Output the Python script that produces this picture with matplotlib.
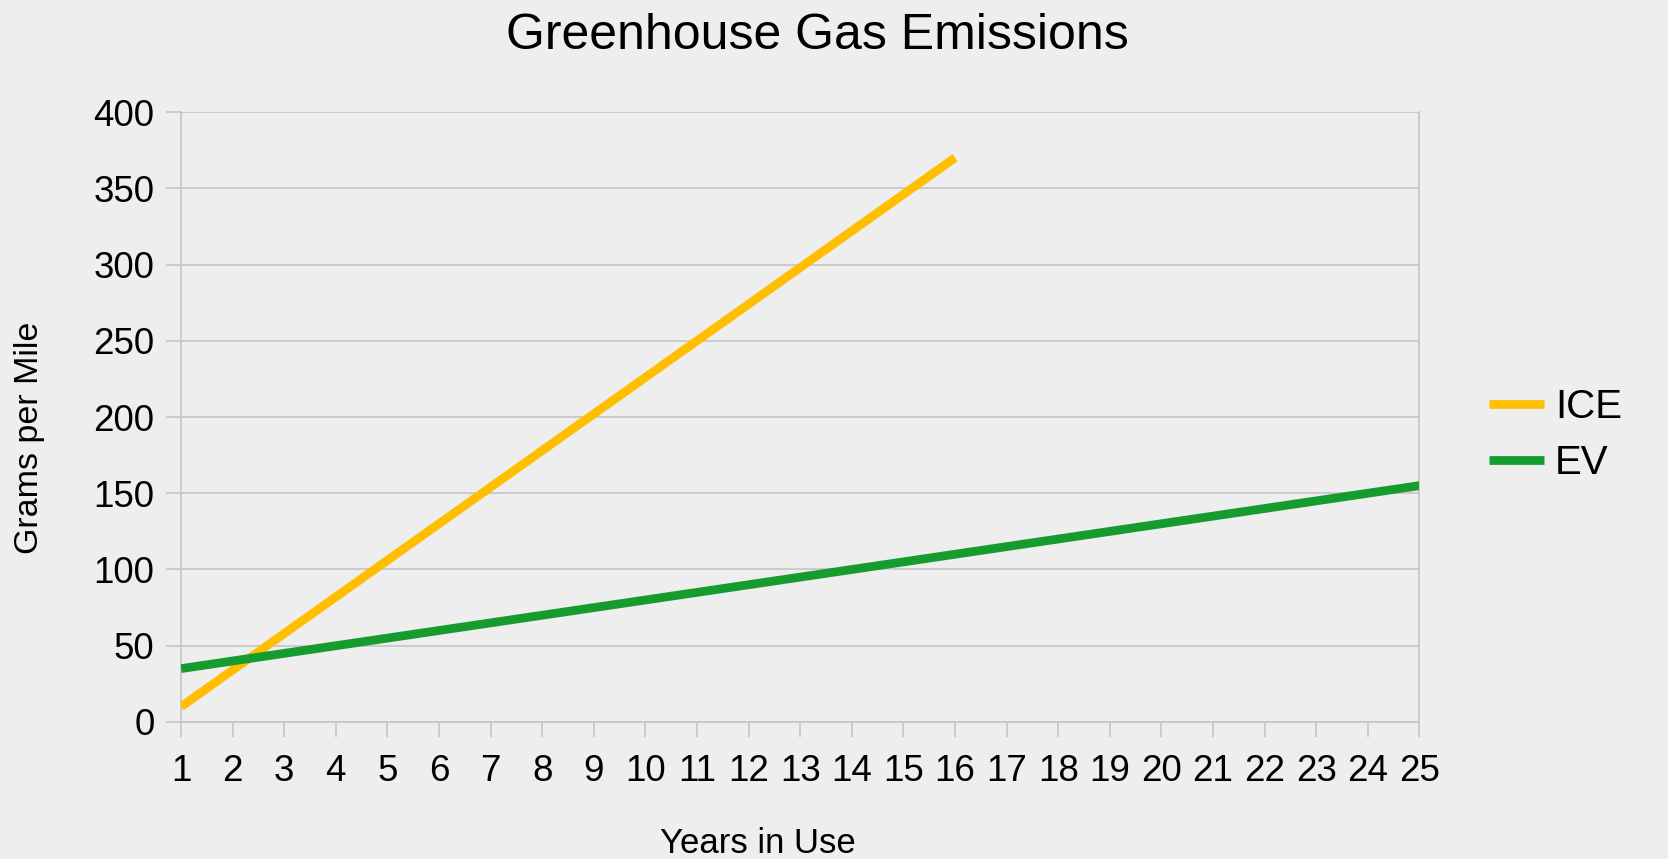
import numpy as np
import matplotlib
matplotlib.use('Agg')
import matplotlib.pyplot as plt

plt.rcParams['font.family'] = ['Liberation Sans', 'DejaVu Sans']

years = list(range(1, 26))
ice_years = list(range(1, 17))
ice = [10, 34, 58, 82, 106, 130, 154, 178, 202, 226, 250, 274, 298, 322, 346, 370]
ev = [35, 40, 45, 50, 55, 60, 65, 70, 75, 80, 85, 90, 95, 100, 105,
      110, 115, 120, 125, 130, 135, 140, 145, 150, 155]
y_ticks = [0, 50, 100, 150, 200, 250, 300, 350, 400]

bg = '#eeeeee'
grid_col = '#c4c4c4'

fig = plt.figure(figsize=(16.68, 8.59), dpi=100, facecolor=bg)
ax = fig.add_axes([0.1085, 0.1595, 0.7425, 0.7101], facecolor=bg)

ax.plot(ice_years, ice, color='#FFBF00', lw=6.3, label='ICE', solid_capstyle='butt', zorder=3)
ax.plot(years, ev, color='#169B2F', lw=6.3, label='EV', solid_capstyle='butt', zorder=3)

ax.set_xlim(1, 25)
ax.set_ylim(0, 400)
ax.set_xticks(years)
ax.set_yticks(y_ticks)
ax.grid(axis='y', color=grid_col, lw=1.2, zorder=1)
ax.tick_params(axis='both', labelsize=26.5, color=grid_col, width=1.2, length=11)
ax.tick_params(axis='y', pad=8)
ax.tick_params(axis='x', pad=12)

ax.spines['top'].set_visible(False)
for s in ['left', 'right', 'bottom']:
    ax.spines[s].set_color(grid_col)
    ax.spines[s].set_linewidth(1.2)

ax.set_xlabel('Years in Use', fontsize=25)
ax.xaxis.set_label_coords(0.466, -0.172)
ax.set_ylabel('Grams per Mile', fontsize=24.5)
ax.yaxis.set_label_coords(-0.110, 0.466)
fig.suptitle('Greenhouse Gas Emissions', fontsize=36, x=0.49, y=0.985)

leg = ax.legend(loc='center left', bbox_to_anchor=(1.056, 0.470), frameon=False,
                fontsize=29, handlelength=1.37, handletextpad=0.27, labelspacing=0.45,
                borderpad=0, borderaxespad=0)

fig.savefig('out.png', dpi=100, facecolor=bg)
